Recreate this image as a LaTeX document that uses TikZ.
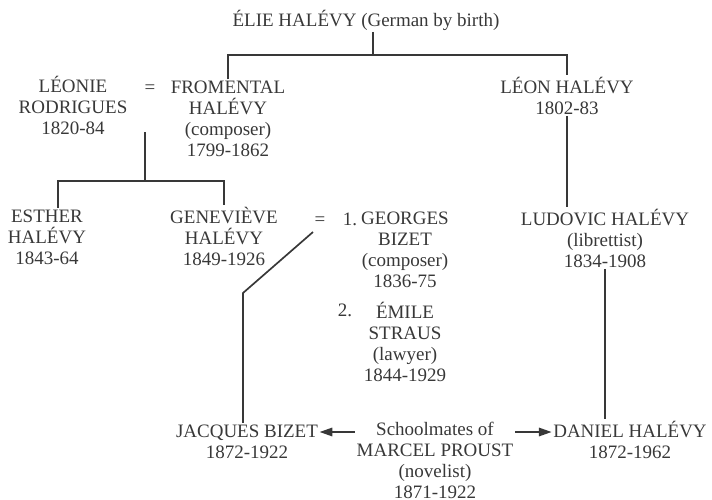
\documentclass[tikz,border=0pt]{standalone}
\usepackage{fontspec}
\setmainfont{Liberation Serif}
\usetikzlibrary{arrows.meta, positioning}
\definecolor{ink}{HTML}{383838}
\tikzset{
  person/.style = {align=center, anchor=base, inner sep=1pt, text=ink,
                   font=\fontsize{13.5}{14.8}\selectfont},
  link/.style = {draw=ink, line width=1.2pt},
  pointer/.style = {link, -{Triangle[length=9pt, width=6pt]}}
}

\begin{document}
\begin{tikzpicture}[x={(0.025cm,0)}, y={(0,-0.025cm)}]
    \useasboundingbox (0,0) rectangle (712,500);

    % Generation 1 (nodes sit on the baseline of their last line)
    \node [person] (elie) at (366,26) {ÉLIE HALÉVY (German by birth)};

    % Generation 2
    \node [person] (leonie) at (73,134) {LÉONIE\\RODRIGUES\\1820-84};
    \node [person] (eq1) at (150,93) {=};
    \node [person] (fromental) at (228,156) {FROMENTAL\\HALÉVY\\(composer)\\1799-1862};
    \node [person] (leon) at (567,114) {LÉON HALÉVY\\1802-83};

    % Generation 3
    \node [person] (esther) at (47,264) {ESTHER\\HALÉVY\\1843-64};
    \node [person] (genevieve) at (224,265) {GENEVIÈVE\\HALÉVY\\1849-1926};
    \node [person] (eq2) at (320,225) {=};
    \node [person] (first) at (350,225) {1.};
    \node [person] (georges) at (405,287) {GEORGES\\BIZET\\(composer)\\1836-75};
    \node [person] (second) at (345,316) {2.};
    \node [person] (emile) at (405,381) {ÉMILE\\STRAUS\\(lawyer)\\1844-1929};
    \node [person] (ludovic) at (605,267) {LUDOVIC HALÉVY\\(librettist)\\1834-1908};

    % Generation 4
    \node [person] (jacques) at (247,458) {JACQUES BIZET\\1872-1922};
    \node [person] (school) at (435,498) {Schoolmates of\\MARCEL PROUST\\(novelist)\\1871-1922};
    \node [person] (daniel) at (630,458) {DANIEL HALÉVY\\1872-1962};

    % Junctions
    \coordinate (elieknot) at (373,55);
    \coordinate (wed1) at (145,132);
    \coordinate (kids1) at (145,181);
    \coordinate (wed2) at (313,232);
    \coordinate (bend) at (243,293);
    \coordinate (schoolrow) at (0,432);

    % Descent lines
    \draw [link] (elieknot |- elie.south) -- (elieknot);
    \draw [link] (fromental.north) |- (elieknot) -| (leon.north);
    \draw [link] (wed1) -- (kids1);
    \draw [link] ([xshift=0.28cm]esther.north) |- (kids1) -| (genevieve.north);
    \draw [link] (leon.south) -- (leon.south |- ludovic.north);
    \draw [link] (ludovic.south) -- (ludovic.south |- daniel.north);
    \draw [link] (wed2) -- (bend) -- (bend |- jacques.north);

    % Schoolmates
    \draw [pointer] (school.west |- schoolrow) -- (jacques.east |- schoolrow);
    \draw [pointer] (school.east |- schoolrow) -- (daniel.west |- schoolrow);

\end{tikzpicture}
\end{document}
